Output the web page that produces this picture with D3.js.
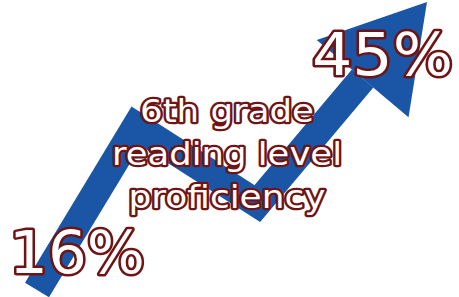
<!DOCTYPE html>
<html>
<head>
<meta charset="utf-8">
<script src="https://cdn.jsdelivr.net/npm/d3@7"></script>
<style>
    html, body { margin: 0; padding: 0; background: #ffffff; }
    svg { display: block; }
    .big { font-family: "DejaVu Sans", Verdana, sans-serif; }
</style>
</head>
<body>
<div id="chart"><svg></svg></div>
<script>
// progress along the trend (0..100) and proficiency value at each bend
var steps = [0, 25.4, 56.5, 100];
var values = [16, 32.5, 24.7, 45];
var endLabels = ["16%", "45%"];
var titleLines = ["6th grade", "reading level", "proficiency"];

var svg_width = 459;
var svg_height = 297;
var arrow_color = "#1b55a5";
var outline_color = "#6e1414";
var shaft_width = 28;
var head_length = 100;
var head_half = 60;

var svg = d3.select("#chart").select("svg")
    .attr("width", svg_width)
    .attr("height", svg_height);

var x = d3.scaleLinear().domain([0, 100]).range([37, 427]);
var y = d3.scaleLinear().domain([16, 45]).range([290, 2]);

var pts = steps.map(function(s, i) {
    return [x(s), y(values[i])];
});

// arrow head: tip is the last point, base sits head_length back along last segment
var tip = pts[pts.length - 1];
var prev = pts[pts.length - 2];
var dx = tip[0] - prev[0];
var dy = tip[1] - prev[1];
var len = Math.sqrt(dx * dx + dy * dy);
var ux = dx / len, uy = dy / len;
var base = [tip[0] - ux * head_length, tip[1] - uy * head_length];

var shaftPts = pts.slice(0, pts.length - 1).concat([base]);

//绘制箭身
svg.append("path")
    .attr("d", d3.line()(shaftPts))
    .attr("fill", "none")
    .attr("stroke", arrow_color)
    .attr("stroke-width", shaft_width)
    .attr("stroke-linejoin", "miter")
    .attr("stroke-miterlimit", 10)
    .attr("stroke-linecap", "butt");

//箭头
var head = [
    tip,
    [base[0] + uy * head_half, base[1] - ux * head_half],
    [base[0] - uy * head_half, base[1] + ux * head_half]
];
svg.append("path")
    .attr("d", d3.line()(head) + "Z")
    .attr("fill", arrow_color);

//数值标签
var labelPos = [
    { x: 9, y: 273, len: 136 },
    { x: 312, y: 75, len: 141 }
];
svg.selectAll(".endlabel")
    .data(endLabels)
    .enter().append("text")
    .attr("class", "endlabel big")
    .attr("x", function(d, i) { return labelPos[i].x; })
    .attr("y", function(d, i) { return labelPos[i].y; })
    .attr("textLength", function(d, i) { return labelPos[i].len; })
    .attr("lengthAdjust", "spacingAndGlyphs")
    .attr("font-size", 59)
    .attr("fill", "#ffffff")
    .attr("stroke", outline_color)
    .attr("stroke-width", 5)
    .attr("stroke-linejoin", "round")
    .attr("paint-order", "stroke")
    .text(function(d) { return d; });

//标题
var titleLens = [174, 230, 197];
svg.selectAll(".title")
    .data(titleLines)
    .enter().append("text")
    .attr("class", "title big")
    .attr("x", 227)
    .attr("y", function(d, i) { return 122 + i * 43; })
    .attr("text-anchor", "middle")
    .attr("textLength", function(d, i) { return titleLens[i]; })
    .attr("lengthAdjust", "spacingAndGlyphs")
    .attr("font-size", 32)
    .attr("fill", "#ffffff")
    .attr("stroke", outline_color)
    .attr("stroke-width", 4.5)
    .attr("stroke-linejoin", "round")
    .attr("paint-order", "stroke")
    .text(function(d) { return d; });
</script>
</body>
</html>
